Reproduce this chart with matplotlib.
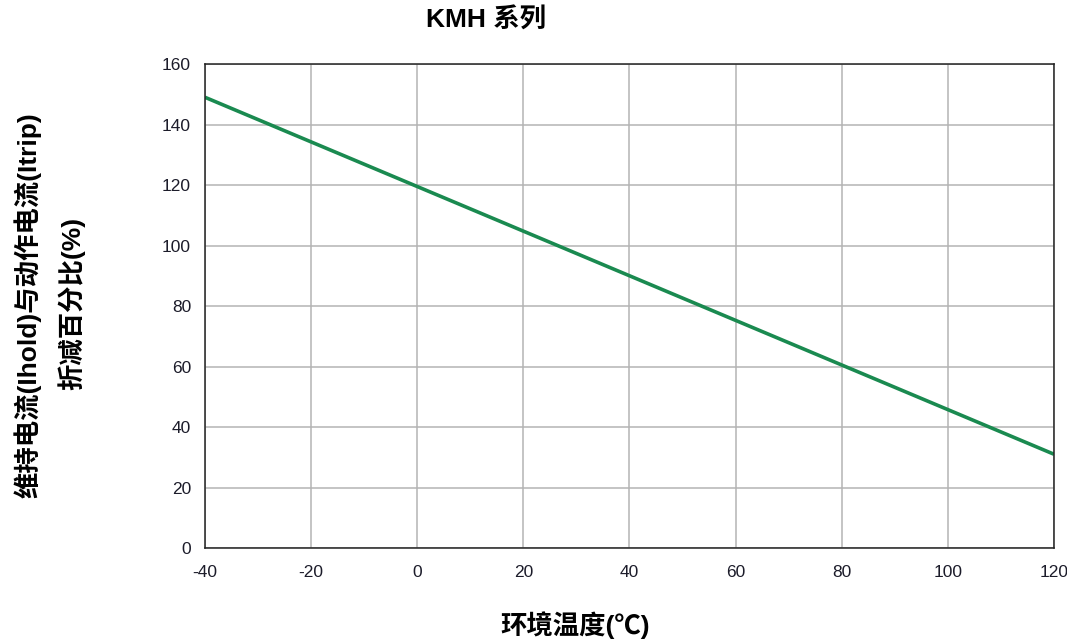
import matplotlib
matplotlib.use("Agg")
import matplotlib.pyplot as plt

temps = [-40, 0, 40, 80, 120]
derating = [149, 119.5, 90, 60.5, 31]
x_ticks = [-40, -20, 0, 20, 40, 60, 80, 100, 120]
y_ticks = [0, 20, 40, 60, 80, 100, 120, 140, 160]

fam = ['Liberation Sans', 'Noto Sans CJK SC', 'DejaVu Sans']
plt.rcParams['font.family'] = fam
plt.rcParams['axes.unicode_minus'] = False

fig = plt.figure(figsize=(10.67, 6.42), dpi=100)
ax = fig.add_axes([0.1921, 0.1464, 0.7957, 0.7539])
ax.plot(temps, derating, color='#1a8a50', linewidth=2.6, solid_capstyle='butt')
ax.set_xlim(-40, 120)
ax.set_ylim(0, 160)
ax.set_xticks(x_ticks)
ax.set_yticks(y_ticks)
ax.grid(True, color='#b4b4b4', linewidth=1.1)
ax.set_axisbelow(True)
for s in ax.spines.values():
    s.set_color('#222222')
    s.set_linewidth(1.1)
ax.tick_params(length=0, pad=10, labelsize=12.5, labelcolor='#1c1c2a')
ax.tick_params(axis='x', pad=12)

fig.text(0.4555, 0.968, 'KMH 系列', ha='center', va='center', fontsize=19, fontweight='bold')
fig.text(0.539, 0.026, '环境温度(℃)', ha='center', va='center', fontsize=19, fontweight='bold')
fig.text(0.026, 0.525, '维持电流(Ihold)与动作电流(Itrip)', ha='center', va='center',
         rotation=90, fontsize=19, fontweight='bold')
fig.text(0.067, 0.528, '折减百分比(%)', ha='center', va='center',
         rotation=90, fontsize=19, fontweight='bold')

fig.savefig('out.png', dpi=100)
